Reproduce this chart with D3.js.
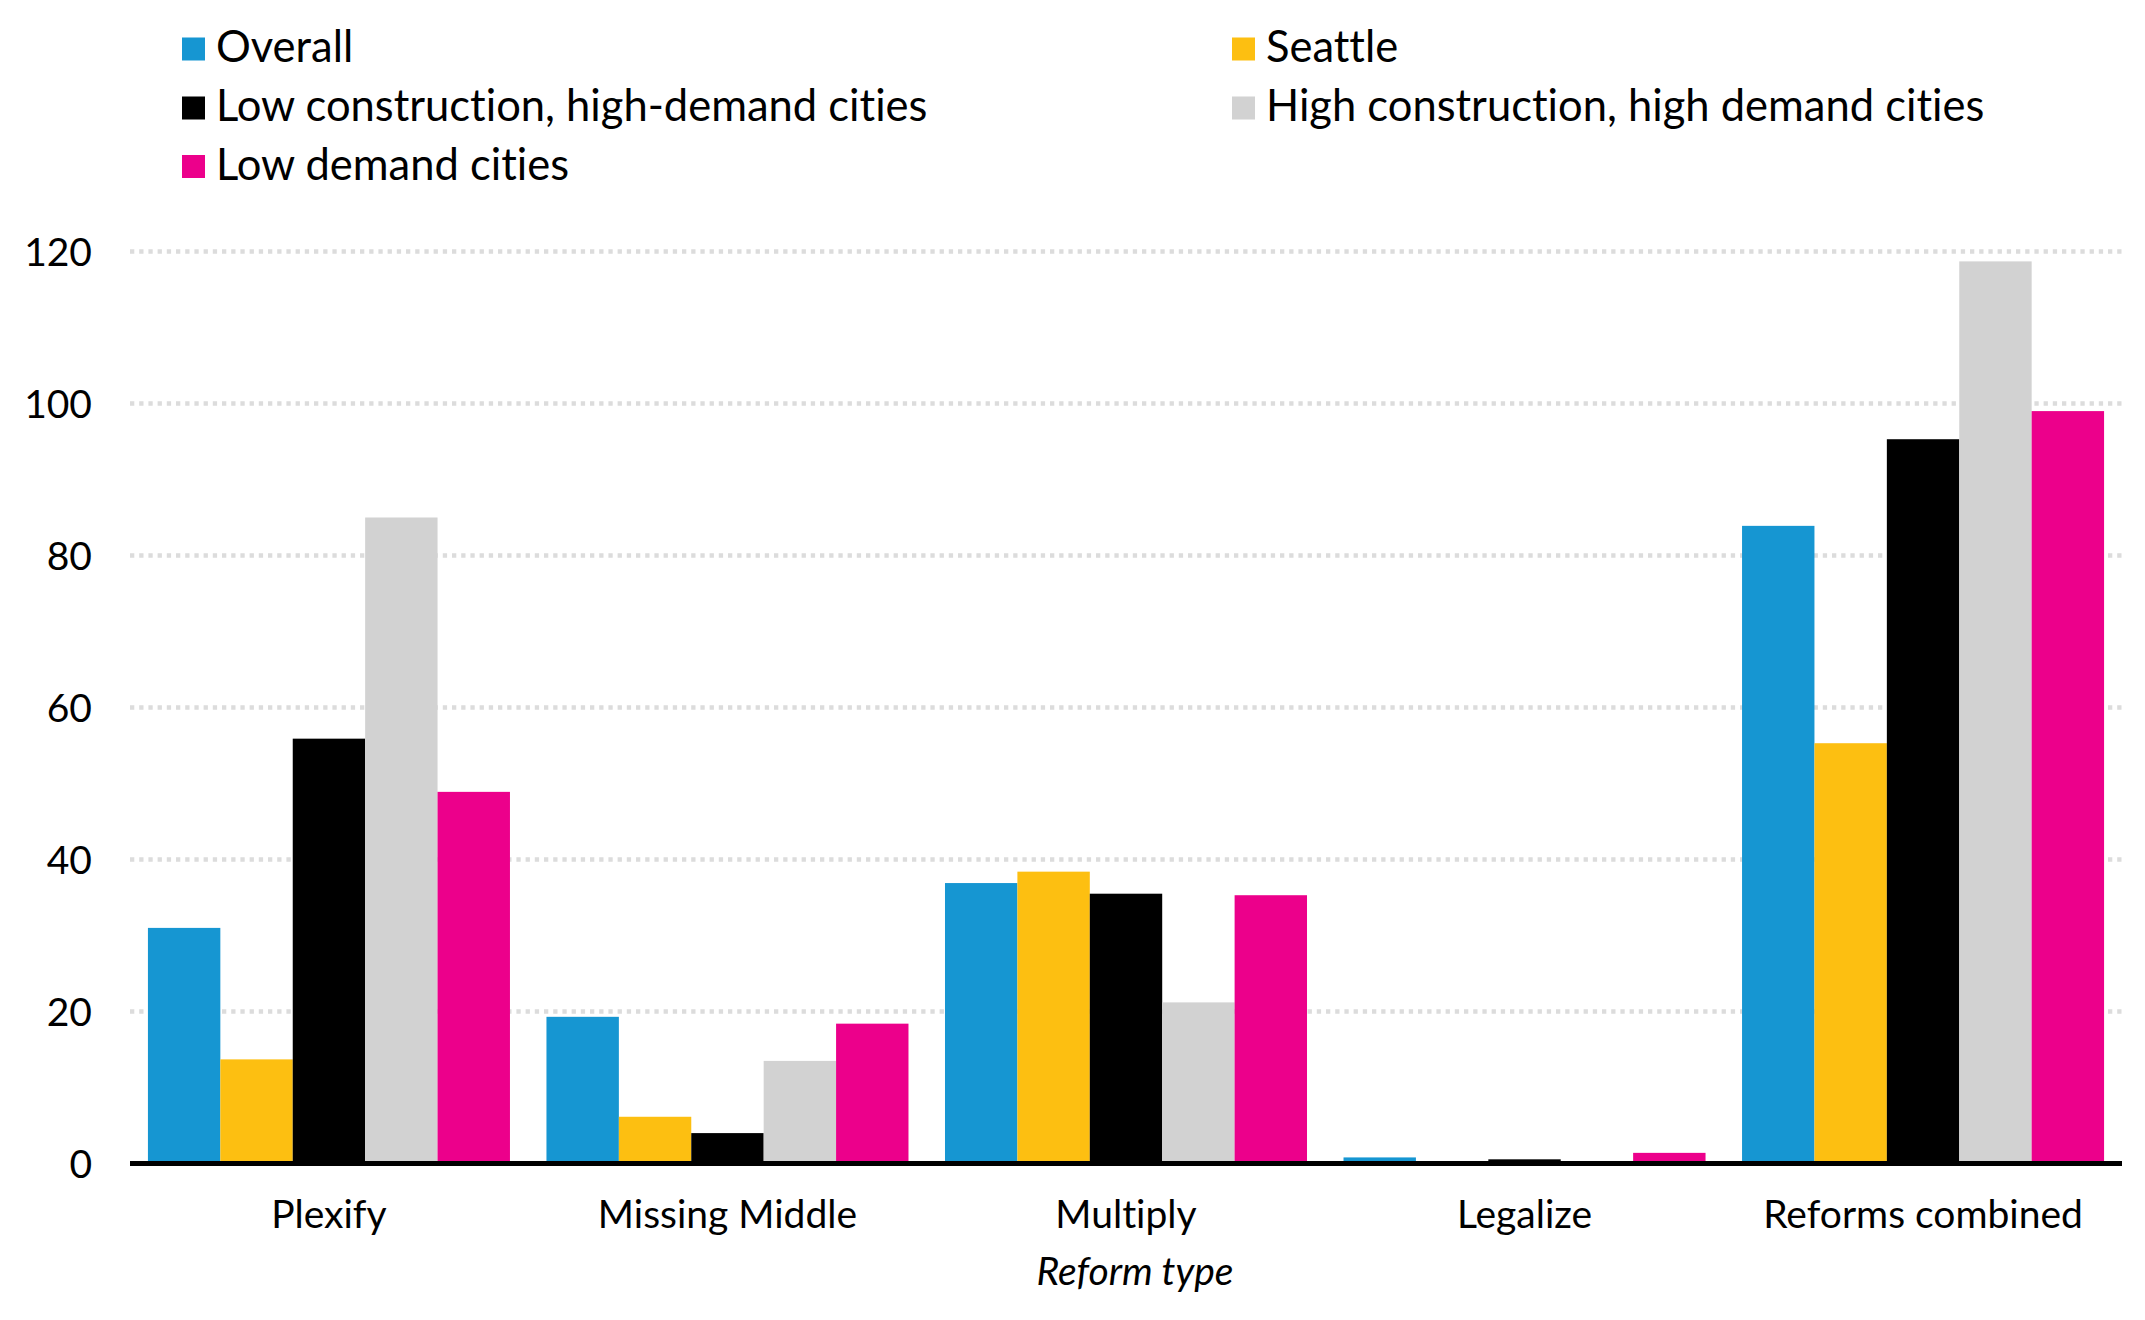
<!DOCTYPE html>
<html>
<head>
<meta charset="utf-8">
<script src="https://cdn.jsdelivr.net/npm/d3@7"></script>
<style>
  html, body { margin: 0; padding: 0; background: #fff; }
  svg { display: block; font-family: Lato, "Open Sans", sans-serif; }
  svg text { font-variant-ligatures: none; font-feature-settings: "liga" 0, "clig" 0, "dlig" 0; }
</style>
</head>
<body>
<svg id="chart" width="2145" height="1320"></svg>
<script>
const categories = ["Plexify", "Missing Middle", "Multiply", "Legalize", "Reforms combined"];
const seriesNames = [
  "Overall",
  "Seattle",
  "Low construction, high-demand cities",
  "High construction, high demand cities",
  "Low demand cities"
];
const seriesColors = ["#1696d2", "#fdbf11", "#000000", "#d2d2d2", "#ec008b"];
const overall     = [31.0, 19.3, 36.9, 0.8, 83.9];
const seattle     = [13.7, 6.15, 38.4, 0.1, 55.3];
const lowConHigh  = [55.9, 4.0, 35.5, 0.55, 95.3];
const highConHigh = [85.0, 13.5, 21.2, 0.15, 118.7];
const lowDemand   = [48.9, 18.4, 35.3, 1.4, 99.0];
const yTicks = [0, 20, 40, 60, 80, 100, 120];
const xTitle = "Reform type";

const seriesValues = [overall, seattle, lowConHigh, highConHigh, lowDemand];

const svg = d3.select("#chart");

const x0 = d3.scaleBand().domain(categories).range([130, 2122]).paddingInner(0.0916).paddingOuter(0.045);
const x1 = d3.scaleBand().domain(seriesNames).range([0, x0.bandwidth()]).padding(0);
const y = d3.scaleLinear().domain([0, 120]).range([1163.5, 251.5]);
const color = d3.scaleOrdinal().domain(seriesNames).range(seriesColors);

const gridLeft = 130, gridRight = 2122;

// gridlines
svg.append("g").selectAll("line")
  .data(yTicks.filter(d => d !== 0))
  .join("line")
  .attr("x1", gridLeft).attr("x2", gridRight)
  .attr("y1", d => y(d)).attr("y2", d => y(d))
  .attr("stroke", "#dcdcdc")
  .attr("stroke-width", 4.5)
  .attr("stroke-dasharray", "4.3,4.9");

// y tick labels
svg.append("g").selectAll("text")
  .data(yTicks)
  .join("text")
  .attr("x", 92)
  .attr("y", d => y(d))
  .attr("dy", "0.36em")
  .attr("text-anchor", "end")
  .attr("font-size", 39)
  .attr("fill", "#000")
  .text(d => d);

// bars
const groups = svg.append("g").selectAll("g")
  .data(categories)
  .join("g")
  .attr("transform", d => `translate(${x0(d)},0)`);

groups.selectAll("rect")
  .data((c, ci) => seriesNames.map((s, si) => ({ s, v: seriesValues[si][ci] })))
  .join("rect")
  .attr("x", d => x1(d.s))
  .attr("width", x1.bandwidth())
  .attr("y", d => y(d.v))
  .attr("height", d => y(0) - y(d.v))
  .attr("fill", d => color(d.s));

// baseline axis
svg.append("line")
  .attr("x1", gridLeft).attr("x2", gridRight)
  .attr("y1", y(0)).attr("y2", y(0))
  .attr("stroke", "#000")
  .attr("stroke-width", 5);

// x tick labels
svg.append("g").selectAll("text")
  .data(categories)
  .join("text")
  .attr("x", d => x0(d) + x0.bandwidth() / 2)
  .attr("y", 1228)
  .attr("text-anchor", "middle")
  .attr("font-size", 39)
  .attr("fill", "#000")
  .text(d => d);

// x axis title
svg.append("text")
  .attr("x", 1135)
  .attr("y", 1285)
  .attr("text-anchor", "middle")
  .attr("font-size", 39)
  .attr("font-style", "italic")
  .attr("fill", "#000")
  .text(xTitle);

// legend
const legendCols = [182, 1232];
const legendRows = [62, 121, 179.5];
const legend = svg.append("g").selectAll("g")
  .data(seriesNames)
  .join("g")
  .attr("transform", (d, i) => `translate(${legendCols[i % 2]},${legendRows[Math.floor(i / 2)]})`);
legend.append("rect")
  .attr("x", 0).attr("y", -24.5)
  .attr("width", 23).attr("height", 23)
  .attr("fill", d => color(d));
legend.append("text")
  .attr("x", 34).attr("y", 0)
  .attr("font-size", 43.5)
  .attr("fill", "#000")
  .text(d => d);
</script>
</body>
</html>
